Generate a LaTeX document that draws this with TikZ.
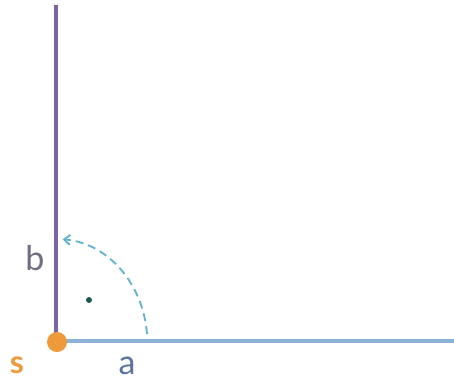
\documentclass[tikz,border=0pt]{standalone}
\usepackage{fontspec}
\setmainfont{Lato}
\usetikzlibrary{arrows.meta}
\definecolor{purp}{HTML}{7E62A8}
\definecolor{bluel}{HTML}{8DB2D8}
\definecolor{orng}{HTML}{EE9A3A}
\definecolor{arrc}{HTML}{5DB3D3}
\definecolor{dotc}{HTML}{1E5A55}
\definecolor{txtg}{HTML}{6E6E82}
\definecolor{txta}{HTML}{5A74A0}
\tikzset{
  lbl/.style={font=\fontsize{34}{36}\selectfont\fontseries{l}\selectfont},
}
\begin{document}
\begin{tikzpicture}[x=1pt,y=-1pt]
\useasboundingbox (0,0) rectangle (454,388);
\coordinate (S) at (56,341);
\coordinate (top) at (56,5);
\coordinate (right) at (454,341);
\draw[purp, line width=4pt] (S) -- (top);
\draw[bluel, line width=3.5pt] (S) -- (right);
\node[circle, fill=orng, minimum size=20pt, inner sep=0pt] (s) at (57,342) {};
\coordinate (arcstart) at (147,334);
\draw[arrc, line width=1.8pt, dash pattern=on 8pt off 5pt, -{Straight Barb[length=6pt,width=10pt]}]
  (arcstart) arc[start angle=5, end angle=86, x radius=91, y radius=-104];
\node[circle, fill=dotc, minimum size=6pt, inner sep=0pt] (dot) at (89,300) {};
\node[lbl, text=txtg] (b) at (35,258) {b};
\node[lbl, text=txta] (a) at (127,366) {a};
\node[text=orng, font=\fontsize{32}{34}\selectfont\bfseries] (sl) at (17,365) {s};
\end{tikzpicture}
\end{document}
